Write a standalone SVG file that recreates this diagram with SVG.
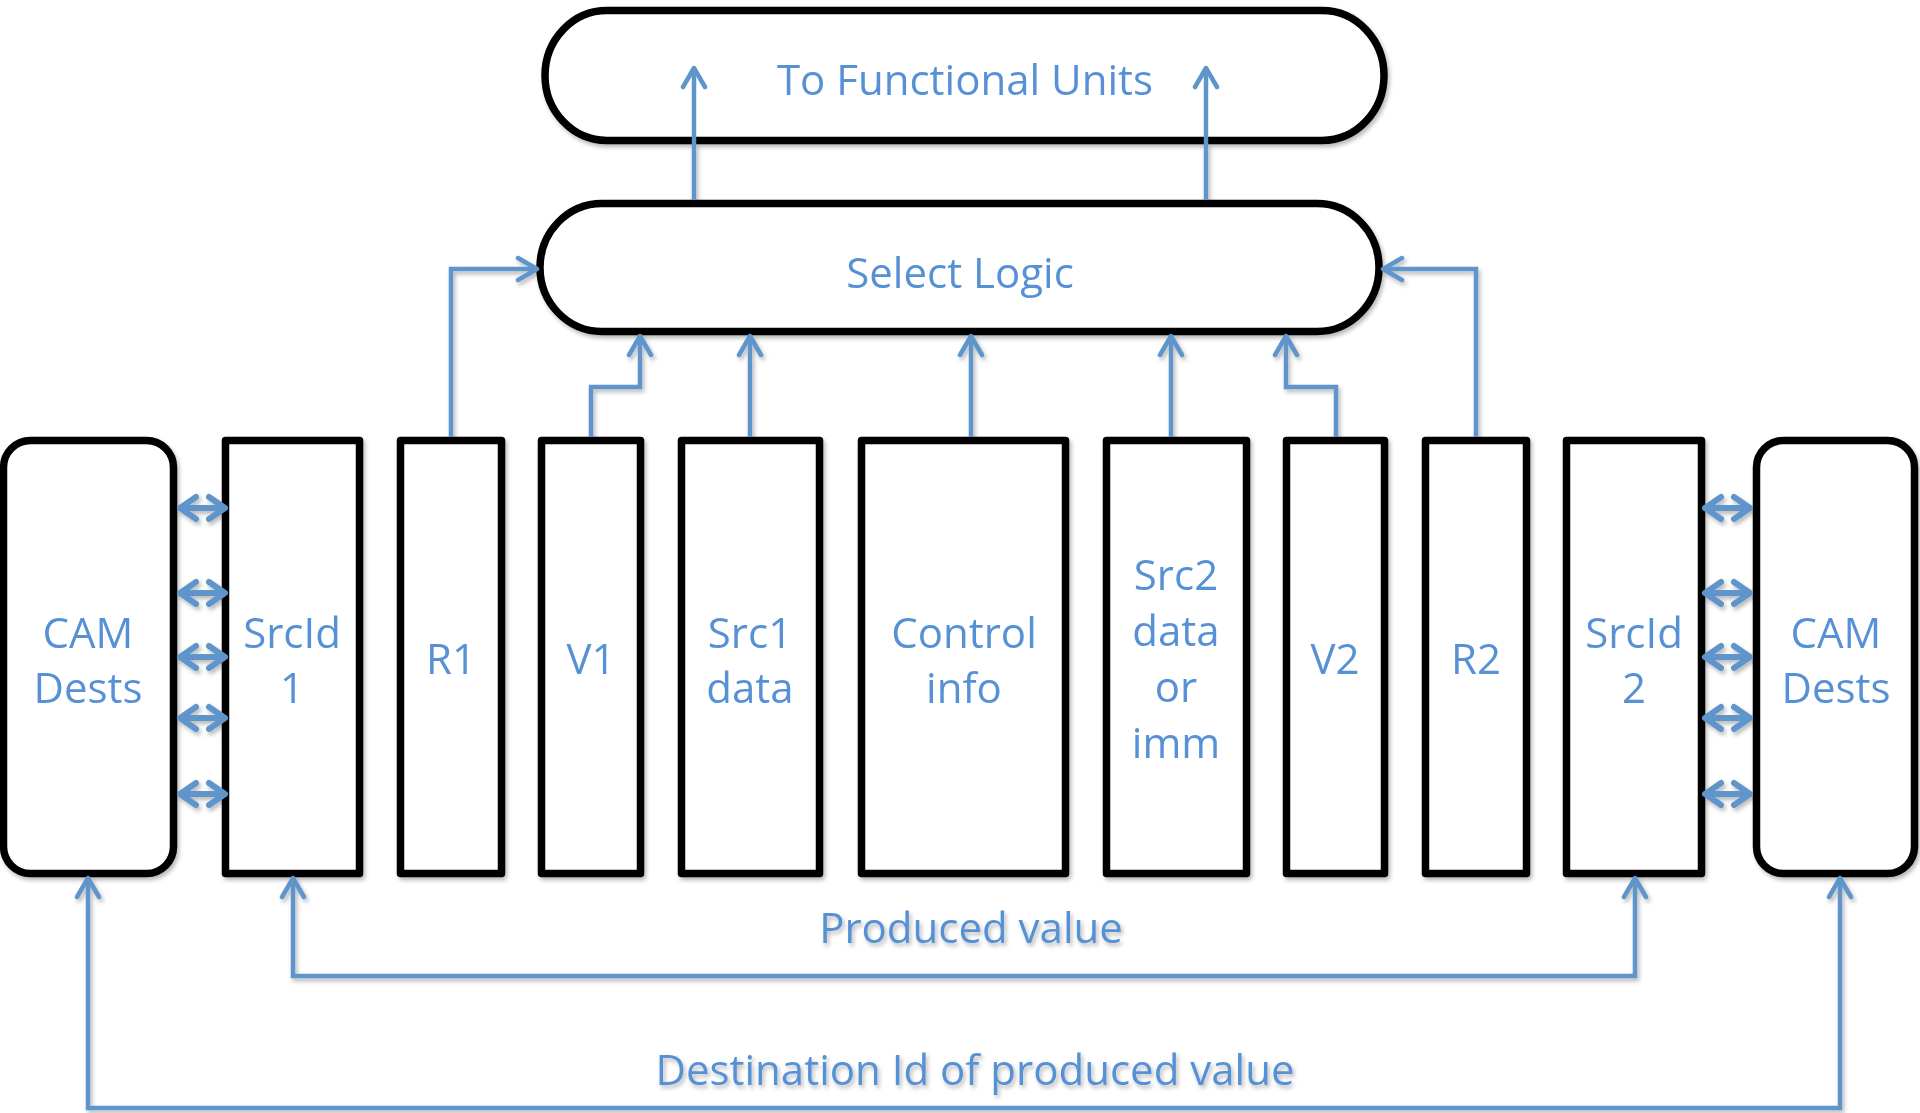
<svg xmlns="http://www.w3.org/2000/svg" width="1920" height="1113" viewBox="0 0 1920 1113">
<style>
.box{fill:#fff;stroke:#000;stroke-width:7.5;stroke-linejoin:round}
.lbl{font-family:"Open Sans","Liberation Sans",sans-serif;font-size:42px;font-weight:500;fill:#5790D5;text-anchor:middle}
.conn{fill:none;stroke:#5F95CA;stroke-width:4.5;stroke-linejoin:miter}
.dbl{fill:none;stroke:#5F95CA;stroke-width:6}
</style>
<defs>
<filter id="sh" x="-3%" y="-3%" width="106%" height="106%">
<feDropShadow dx="2" dy="3" stdDeviation="2" flood-color="#000" flood-opacity="0.28"/>
</filter>
<marker id="ah" viewBox="-24 -14 28 28" refX="0" refY="0" markerWidth="28" markerHeight="28" markerUnits="userSpaceOnUse" orient="auto-start-reverse">
<path d="M-19,-11 L0,0 L-19,11" fill="none" stroke="#5F95CA" stroke-width="4.5" stroke-linecap="round" stroke-linejoin="round"/>
</marker>
<marker id="dh" viewBox="-22 -15 26 30" refX="0" refY="0" markerWidth="26" markerHeight="30" markerUnits="userSpaceOnUse" orient="auto-start-reverse">
<path d="M-16,-11 L0,0 L-16,11" fill="none" stroke="#5F95CA" stroke-width="6" stroke-linecap="round" stroke-linejoin="round"/>
</marker>
</defs>
<rect width="1920" height="1113" fill="#fff"/>
<g filter="url(#sh)">
<g id="to-functional-units">
<rect class="box" x="545" y="10.5" width="839" height="130" rx="62" ry="65"/>
<text class="lbl" x="965" y="95">To Functional Units</text>
</g>
<g id="select-logic">
<rect class="box" x="540" y="203.5" width="839" height="128" rx="62" ry="64"/>
<text class="lbl" x="960" y="288">Select Logic</text>
</g>
<g id="cam-dests-left">
<rect class="box" x="3.5" y="440.5" width="170" height="433" rx="27"/>
<text class="lbl" x="88" y="648">CAM</text>
<text class="lbl" x="88" y="703">Dests</text>
</g>
<g id="srcid1">
<rect class="box" x="225.5" y="440.5" width="134" height="433"/>
<text class="lbl" x="292" y="648">SrcId</text>
<text class="lbl" x="292" y="703">1</text>
</g>
<g id="r1">
<rect class="box" x="400.5" y="440.5" width="101" height="433"/>
<text class="lbl" x="451" y="674">R1</text>
</g>
<g id="v1">
<rect class="box" x="541.5" y="440.5" width="99" height="433"/>
<text class="lbl" x="591" y="674">V1</text>
</g>
<g id="src1-data">
<rect class="box" x="681.5" y="440.5" width="138" height="433"/>
<text class="lbl" x="750" y="648">Src1</text>
<text class="lbl" x="750" y="703">data</text>
</g>
<g id="control-info">
<rect class="box" x="861.5" y="440.5" width="204" height="433"/>
<text class="lbl" x="964" y="648">Control</text>
<text class="lbl" x="964" y="703">info</text>
</g>
<g id="src2-data">
<rect class="box" x="1106.5" y="440.5" width="140" height="433"/>
<text class="lbl" x="1176" y="590">Src2</text>
<text class="lbl" x="1176" y="646">data</text>
<text class="lbl" x="1176" y="702">or</text>
<text class="lbl" x="1176" y="758">imm</text>
</g>
<g id="v2">
<rect class="box" x="1286.5" y="440.5" width="98" height="433"/>
<text class="lbl" x="1335" y="674">V2</text>
</g>
<g id="r2">
<rect class="box" x="1425.5" y="440.5" width="101" height="433"/>
<text class="lbl" x="1476" y="674">R2</text>
</g>
<g id="srcid2">
<rect class="box" x="1566.5" y="440.5" width="135" height="433"/>
<text class="lbl" x="1634" y="648">SrcId</text>
<text class="lbl" x="1634" y="703">2</text>
</g>
<g id="cam-dests-right">
<rect class="box" x="1756.5" y="440.5" width="158" height="433" rx="27"/>
<text class="lbl" x="1836" y="648">CAM</text>
<text class="lbl" x="1836" y="703">Dests</text>
</g>
<g id="connectors">
<path class="conn" d="M694,200 L694,68" marker-end="url(#ah)"/>
<path class="conn" d="M1206,200 L1206,68" marker-end="url(#ah)"/>
<path class="conn" d="M451,437 L451,269 L537,269" marker-end="url(#ah)"/>
<path class="conn" d="M591,437 L591,387 L640,387 L640,336" marker-end="url(#ah)"/>
<path class="conn" d="M750,437 L750,336" marker-end="url(#ah)"/>
<path class="conn" d="M971,437 L971,336" marker-end="url(#ah)"/>
<path class="conn" d="M1171,437 L1171,336" marker-end="url(#ah)"/>
<path class="conn" d="M1336,437 L1336,387 L1286,387 L1286,336" marker-end="url(#ah)"/>
<path class="conn" d="M1476,437 L1476,269 L1383,269" marker-end="url(#ah)"/>
<path class="conn" d="M293,878 L293,976 L1635,976 L1635,878" marker-start="url(#ah)" marker-end="url(#ah)"/>
<path class="conn" d="M88,878 L88,1108 L1840,1108 L1840,878" marker-start="url(#ah)" marker-end="url(#ah)"/>
<path class="dbl" d="M180,508 L225,508" marker-start="url(#dh)" marker-end="url(#dh)"/>
<path class="dbl" d="M180,593 L225,593" marker-start="url(#dh)" marker-end="url(#dh)"/>
<path class="dbl" d="M180,657 L225,657" marker-start="url(#dh)" marker-end="url(#dh)"/>
<path class="dbl" d="M180,718 L225,718" marker-start="url(#dh)" marker-end="url(#dh)"/>
<path class="dbl" d="M180,794 L225,794" marker-start="url(#dh)" marker-end="url(#dh)"/>
<path class="dbl" d="M1705,508 L1750,508" marker-start="url(#dh)" marker-end="url(#dh)"/>
<path class="dbl" d="M1705,593 L1750,593" marker-start="url(#dh)" marker-end="url(#dh)"/>
<path class="dbl" d="M1705,657 L1750,657" marker-start="url(#dh)" marker-end="url(#dh)"/>
<path class="dbl" d="M1705,718 L1750,718" marker-start="url(#dh)" marker-end="url(#dh)"/>
<path class="dbl" d="M1705,794 L1750,794" marker-start="url(#dh)" marker-end="url(#dh)"/>
<text class="lbl" x="971" y="943">Produced value</text>
<text class="lbl" x="975" y="1085">Destination Id of produced value</text>
</g>
</g>
</svg>
